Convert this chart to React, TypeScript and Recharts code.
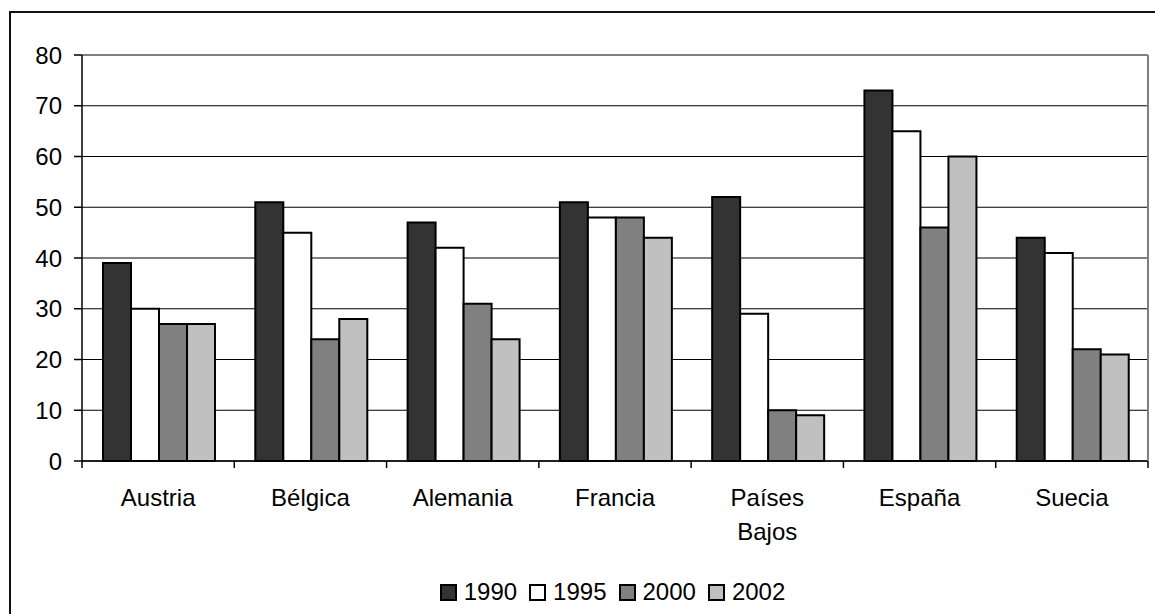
import React from "react";
import { BarChart, Bar, XAxis, YAxis, CartesianGrid, ReferenceLine } from "recharts";

const countries = ["Austria", "Bélgica", "Alemania", "Francia", "Países Bajos", "España", "Suecia"];
const v1990 = [39, 51, 47, 51, 52, 73, 44];
const v1995 = [30, 45, 42, 48, 29, 65, 41];
const v2000 = [27, 24, 31, 48, 10, 46, 22];
const v2002 = [27, 28, 24, 44, 9, 60, 21];
const yTicks = [0, 10, 20, 30, 40, 50, 60, 70, 80];

const series = [
  { key: "y1990", name: "1990", fill: "#333333", values: v1990 },
  { key: "y1995", name: "1995", fill: "#ffffff", values: v1995 },
  { key: "y2000", name: "2000", fill: "#808080", values: v2000 },
  { key: "y2002", name: "2002", fill: "#c0c0c0", values: v2002 },
];

const data = countries.map((name, i) => {
  const row: Record<string, any> = { name };
  series.forEach((s) => (row[s.key] = s.values[i]));
  return row;
});

const W = 1155;
const H = 614;
const margin = { top: 55, right: 6, left: 0, bottom: 93 };
const Y_AXIS_W = 82;
const band = (W - margin.right - 1 - Y_AXIS_W) / countries.length;
const FONT = "'Liberation Sans', Arial, sans-serif";
const FS = 24;

// category label plus tick marks on the category boundaries
const CountryTick = (props: any) => {
  const { x, y, payload, index } = props;
  const lines = String(payload.value).split(" ");
  const left = x - band / 2;
  const right = x + band / 2;
  return (
    <g>
      <line x1={left} y1={y} x2={left} y2={y + 7} stroke="#000" strokeWidth={1.5} />
      {index === countries.length - 1 && (
        <line x1={right} y1={y} x2={right} y2={y + 7} stroke="#000" strokeWidth={1.5} />
      )}
      <text x={x} y={y + 45} textAnchor="middle" fontSize={FS} fill="#000" fontFamily={FONT}>
        {lines.map((l, i) => (
          <tspan key={i} x={x} dy={i === 0 ? 0 : 34}>
            {l}
          </tspan>
        ))}
      </text>
    </g>
  );
};

const LegendRow = () => (
  <div
    style={{
      position: "absolute",
      top: 578,
      left: 0,
      width: 1225,
      display: "flex",
      justifyContent: "center",
      alignItems: "center",
      fontFamily: FONT,
      fontSize: FS,
      color: "#000",
    }}
  >
    {series.map((s, i) => (
      <div
        key={s.key}
        style={{ display: "flex", alignItems: "center", marginRight: i === series.length - 1 ? 0 : 12 }}
      >
        <span
          style={{
            display: "inline-block",
            width: 13,
            height: 13,
            background: s.fill,
            border: "2px solid #000",
            marginRight: 7,
          }}
        />
        <span>{s.name}</span>
      </div>
    ))}
  </div>
);

export default function App() {
  return (
    <div
      style={{
        position: "fixed",
        left: 0,
        top: 0,
        width: W,
        height: H,
        overflow: "hidden",
        background: "#fff",
      }}
    >
      <div
        style={{
          position: "absolute",
          left: 9,
          top: 11,
          width: W + 100,
          height: H + 100,
          border: "2px solid #111",
        }}
      />
      <div style={{ position: "absolute", left: 0, top: 0 }}>
        <BarChart
          width={W}
          height={H}
          data={data}
          margin={margin}
          barCategoryGap="13.8%"
          barGap={0}
        >
          <CartesianGrid vertical={false} stroke="#000" strokeWidth={1} />
          <ReferenceLine y={80} stroke="#808080" strokeWidth={2} />
          <XAxis
            dataKey="name"
            tickLine={false}
            tickSize={0}
            tickMargin={0}
            height={60}
            interval={0}
            axisLine={{ stroke: "#000", strokeWidth: 1.5 }}
            tick={<CountryTick />}
          />
          <YAxis
            width={Y_AXIS_W}
            domain={[0, 80]}
            ticks={yTicks}
            interval={0}
            tickSize={8}
            tickMargin={12}
            axisLine={{ stroke: "#000", strokeWidth: 1.5 }}
            tickLine={{ stroke: "#000", strokeWidth: 1.5 }}
            tick={{ fill: "#000", fontSize: FS, fontFamily: FONT }}
          />
          <YAxis
            yAxisId="r"
            orientation="right"
            width={1}
            domain={[0, 80]}
            tick={false}
            tickLine={false}
            axisLine={{ stroke: "#808080", strokeWidth: 2 }}
          />
          {series.map((s) => (
            <Bar
              key={s.key}
              dataKey={s.key}
              name={s.name}
              fill={s.fill}
              stroke="#000"
              strokeWidth={2}
              isAnimationActive={false}
            />
          ))}
        </BarChart>
      </div>
      <LegendRow />
    </div>
  );
}
